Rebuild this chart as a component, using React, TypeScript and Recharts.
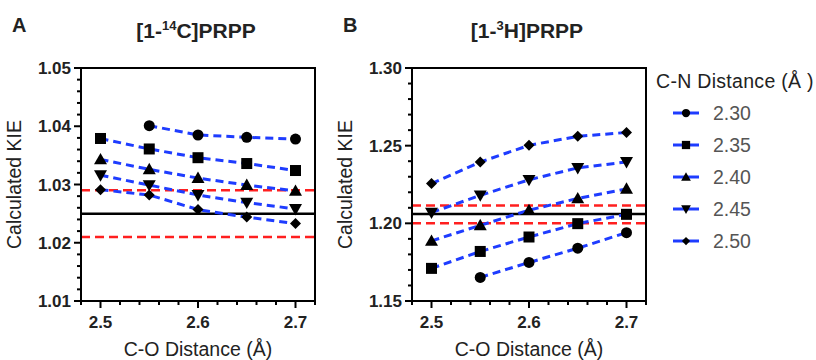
import React from "react"
import { LineChart, Line, XAxis, YAxis, ReferenceLine, ReferenceArea, Label } from "recharts"

// C-O distance (x) and C-N distance (series)
const coDistance = [2.5, 2.55, 2.6, 2.65, 2.7]
const cnLabels = ["2.30", "2.35", "2.40", "2.45", "2.50"]

// [1-14C]PRPP calculated KIE
const c14_230 = [null, 1.0401, 1.0385, 1.0381, 1.0378]
const c14_235 = [1.0379, 1.0361, 1.0346, 1.0336, 1.0324]
const c14_240 = [1.0343, 1.0326, 1.0311, 1.0299, 1.0289]
const c14_245 = [1.0316, 1.0299, 1.0282, 1.0269, 1.0258]
const c14_250 = [1.0291, 1.0282, 1.0257, 1.0244, 1.0233]
const c14_measured = 1.025
const c14_bounds = [1.021, 1.029]

// [1-3H]PRPP calculated KIE
const h3_230 = [null, 1.1652, 1.1748, 1.184, 1.194]
const h3_235 = [1.171, 1.1819, 1.1912, 1.1998, 1.2058]
const h3_240 = [1.1887, 1.1987, 1.2085, 1.216, 1.2222]
const h3_245 = [1.2069, 1.218, 1.228, 1.2357, 1.2395]
const h3_250 = [1.2256, 1.2395, 1.2502, 1.256, 1.2585]
const h3_measured = 1.206
const h3_bounds = [1.2, 1.2115]

// axis ticks
const xMajor = [2.5, 2.6, 2.7]
const xDomain = [2.48, 2.72]
const c14Major = [1.01, 1.02, 1.03, 1.04, 1.05]
const h3Major = [1.15, 1.2, 1.25, 1.3]

const shapes = ["circle", "square", "triangle", "down", "diamond"]
const BLUE = "#1e3cff"
const RED = "#ff1f1f"
const FONT = "'Liberation Sans', Arial, sans-serif"

function subTicks(lo: number, hi: number, step: number) {
  const out: number[] = []
  const n = Math.round((hi - lo) / step)
  for (let i = 0; i <= n; i++) out.push(Number((lo + i * step).toFixed(4)))
  return out
}

function isMajor(v: number, majors: number[]) {
  return majors.some((m) => Math.abs(m - v) < 1e-6)
}

function Marker({ shape, cx, cy, s = 1 }: { shape: string; cx: number; cy: number; s?: number }) {
  if (shape === "circle") return <circle cx={cx} cy={cy} r={5.5 * s} fill="#000" />
  if (shape === "square") {
    const h = 5.5 * s
    return <rect x={cx - h} y={cy - h} width={2 * h} height={2 * h} fill="#000" />
  }
  if (shape === "triangle") {
    const h = 6.5 * s
    return <polygon points={`${cx},${cy - h} ${cx + h},${cy + h * 0.75} ${cx - h},${cy + h * 0.75}`} fill="#000" />
  }
  if (shape === "down") {
    const h = 6.5 * s
    return <polygon points={`${cx},${cy + h} ${cx + h},${cy - h * 0.75} ${cx - h},${cy - h * 0.75}`} fill="#000" />
  }
  const h = 5.5 * s
  return <polygon points={`${cx},${cy - h} ${cx + h},${cy} ${cx},${cy + h} ${cx - h},${cy}`} fill="#000" />
}

function Panel({
  series,
  yDomain,
  yMajor,
  yStep,
  measured,
  bounds,
}: {
  series: (number | null)[][]
  yDomain: number[]
  yMajor: number[]
  yStep: number
  measured: number
  bounds: number[]
}) {
  const data = coDistance.map((x, i) => {
    const row: any = { x }
    series.forEach((s, k) => (row["s" + k] = s[i]))
    return row
  })
  const yTicks = subTicks(yDomain[0], yDomain[1], yStep)
  const xTicks = subTicks(xDomain[0], xDomain[1], 0.02)

  const YTick = (p: any) => {
    const major = isMajor(p.payload.value, yMajor)
    return (
      <g>
        <line x1={p.x - (major ? 7 : 4)} x2={p.x} y1={p.y} y2={p.y} stroke="#000" strokeWidth={2} />
        {major && (
          <text x={p.x - 10} y={p.y} dy={6} textAnchor="end" fontSize={17} fontWeight="bold" fill="#222" fontFamily={FONT}>
            {p.payload.value.toFixed(2)}
          </text>
        )}
      </g>
    )
  }
  const XTick = (p: any) => {
    const major = isMajor(p.payload.value, xMajor)
    return (
      <g>
        <line x1={p.x} x2={p.x} y1={p.y} y2={p.y + (major ? 7 : 4)} stroke="#000" strokeWidth={2} />
        {major && (
          <text x={p.x} y={p.y + 27} textAnchor="middle" fontSize={17} fontWeight="bold" fill="#222" fontFamily={FONT}>
            {p.payload.value.toFixed(1)}
          </text>
        )}
      </g>
    )
  }

  return (
    <LineChart width={330} height={360} data={data} margin={{ top: 68, right: 15, bottom: 0, left: 0 }}>
      <XAxis
        dataKey="x"
        type="number"
        domain={xDomain}
        ticks={xTicks}
        interval={0}
        tickSize={0}
        tickMargin={0}
        tickLine={false}
        tick={XTick}
        axisLine={{ stroke: "#000", strokeWidth: 2 }}
        height={59}
        allowDataOverflow
      >
        <Label value="C-O Distance (Å)" position="insideBottom" offset={4} style={{ fontSize: 19.5, fill: "#222", fontFamily: FONT }} />
      </XAxis>
      <YAxis
        type="number"
        domain={yDomain}
        ticks={yTicks}
        interval={0}
        tickSize={0}
        tickMargin={0}
        tickLine={false}
        tick={YTick}
        axisLine={{ stroke: "#000", strokeWidth: 2 }}
        width={81}
        allowDataOverflow
      >
        <Label
          value="Calculated KIE"
          angle={-90}
          position="insideLeft"
          offset={14}
          style={{ fontSize: 19.5, fill: "#222", fontFamily: FONT, textAnchor: "middle" }}
        />
      </YAxis>
      <ReferenceArea x1={xDomain[0]} x2={xDomain[1]} y1={yDomain[0]} y2={yDomain[1]} fill="none" fillOpacity={0} stroke="#000" strokeWidth={2} />
      {bounds.map((b) => (
        <ReferenceLine key={b} y={b} stroke={RED} strokeWidth={2.5} strokeDasharray="9 5" />
      ))}
      <ReferenceLine y={measured} stroke="#000" strokeWidth={2.5} />
      {series.map((_, k) => (
        <Line
          key={k}
          dataKey={"s" + k}
          stroke={BLUE}
          strokeWidth={3}
          strokeDasharray="8 5"
          isAnimationActive={false}
          connectNulls
          dot={(p: any) =>
            p.cy == null || p.value == null ? (
              <g key={`d${k}-${p.index}`} />
            ) : (
              <g key={`d${k}-${p.index}`}>
                <Marker shape={shapes[k]} cx={p.cx} cy={p.cy} />
              </g>
            )
          }
          activeDot={false}
        />
      ))}
    </LineChart>
  )
}

function Title({ left, pre, sup, post }: { left: number; pre: string; sup: string; post: string }) {
  return (
    <div
      style={{
        position: "absolute",
        left: left - 110,
        width: 220,
        top: 19,
        textAlign: "center",
        fontSize: 21,
        fontWeight: "bold",
        fontFamily: FONT,
        color: "#222",
      }}
    >
      {pre}
      <span style={{ fontSize: 13, position: "relative", top: -8 }}>{sup}</span>
      {post}
    </div>
  )
}

export default function App() {
  const letter: React.CSSProperties = {
    position: "absolute",
    top: 14,
    fontSize: 20,
    fontWeight: "bold",
    fontFamily: FONT,
    color: "#222",
  }
  return (
    <div style={{ position: "absolute", left: 0, top: 0, width: 816, height: 360, background: "#fff", overflow: "hidden" }}>
      <div style={{ position: "absolute", left: 0, top: 0 }}>
        <Panel
          series={[c14_230, c14_235, c14_240, c14_245, c14_250]}
          yDomain={[1.01, 1.05]}
          yMajor={c14Major}
          yStep={0.002}
          measured={c14_measured}
          bounds={c14_bounds}
        />
      </div>
      <div style={{ position: "absolute", left: 331, top: 0 }}>
        <Panel
          series={[h3_230, h3_235, h3_240, h3_245, h3_250]}
          yDomain={[1.15, 1.3]}
          yMajor={h3Major}
          yStep={0.01}
          measured={h3_measured}
          bounds={h3_bounds}
        />
      </div>
      <div style={{ ...letter, left: 12 }}>A</div>
      <div style={{ ...letter, left: 343 }}>B</div>
      <Title left={196} pre="[1-" sup="14" post="C]PRPP" />
      <Title left={527} pre="[1-" sup="3" post="H]PRPP" />
      <div style={{ position: "absolute", left: 656, top: 70, fontFamily: FONT, color: "#222" }}>
        <div style={{ fontSize: 19.5, letterSpacing: 0.3, whiteSpace: "nowrap", height: 24 }}>C-N Distance (Å )</div>
        {cnLabels.map((lab, k) => (
          <div key={lab} style={{ display: "flex", alignItems: "center", height: 32, marginTop: k === 0 ? 3 : 0 }}>
            <svg width={30} height={20} style={{ marginLeft: 16 }}>
              <line x1={1} x2={27} y1={10} y2={10} stroke={BLUE} strokeWidth={3} />
              <Marker shape={shapes[k]} cx={14} cy={10} s={0.75} />
            </svg>
            <span style={{ fontSize: 19.5, color: "#555", marginLeft: 11 }}>{lab}</span>
          </div>
        ))}
      </div>
    </div>
  )
}
